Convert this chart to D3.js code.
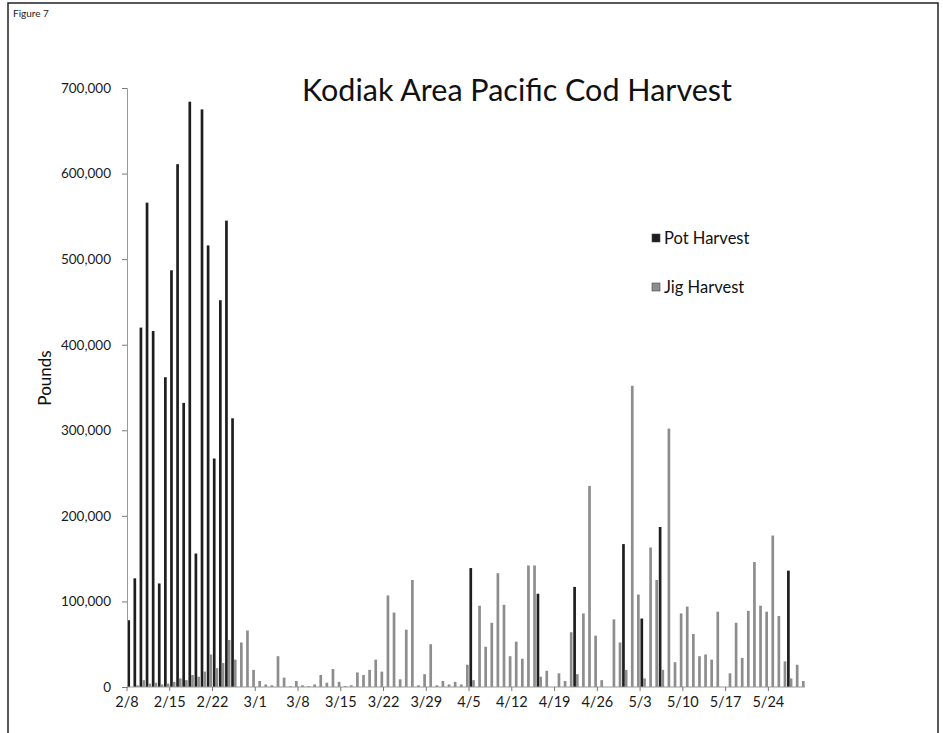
<!DOCTYPE html>
<html>
<head>
<meta charset="utf-8">
<script src="https://cdn.jsdelivr.net/npm/d3@7"></script>
<style>
  html, body { margin: 0; padding: 0; background: #fff; }
  svg { display: block; font-family: Lato, "Open Sans", sans-serif; }
</style>
</head>
<body>
<svg id="chart" width="943" height="733"></svg>
<script>
// one category per day, 2/8 .. 5/29
const days = [
  "2/8","2/9","2/10","2/11","2/12","2/13","2/14","2/15","2/16","2/17","2/18","2/19","2/20","2/21",
  "2/22","2/23","2/24","2/25","2/26","2/27","2/28",
  "3/1","3/2","3/3","3/4","3/5","3/6","3/7","3/8","3/9","3/10","3/11","3/12","3/13","3/14",
  "3/15","3/16","3/17","3/18","3/19","3/20","3/21","3/22","3/23","3/24","3/25","3/26","3/27","3/28",
  "3/29","3/30","3/31",
  "4/1","4/2","4/3","4/4","4/5","4/6","4/7","4/8","4/9","4/10","4/11","4/12","4/13","4/14",
  "4/15","4/16","4/17","4/18","4/19","4/20","4/21","4/22","4/23","4/24","4/25","4/26","4/27","4/28",
  "4/29","4/30",
  "5/1","5/2","5/3","5/4","5/5","5/6","5/7","5/8","5/9","5/10","5/11","5/12","5/13","5/14",
  "5/15","5/16","5/17","5/18","5/19","5/20","5/21","5/22","5/23","5/24","5/25","5/26","5/27","5/28",
  "5/29"
];

const tickDays = ["2/8","2/15","2/22","3/1","3/8","3/15","3/22","3/29","4/5","4/12","4/19","4/26","5/3","5/10","5/17","5/24"];

const yTicks = [0, 100000, 200000, 300000, 400000, 500000, 600000, 700000];

// pounds per day
const potHarvest = [
  78000, 127000, 420000, 566000, 416000, 121000, 362000, 487000, 611000, 332000, 684000, 156000, 675000, 516000,
  267000, 452000, 545000, 314000, 0, 0, 0,
  0, 0, 0, 0, 0, 0, 0, 0, 0, 0, 0, 0, 0, 0,
  0, 0, 0, 0, 0, 0, 0, 0, 0, 0, 0, 0, 0, 0,
  0, 0, 0,
  0, 0, 0, 0, 139000, 0, 0, 0, 0, 0, 0, 0, 0, 0,
  0, 109000, 0, 0, 0, 0, 0, 117000, 0, 0, 0, 0, 0, 0,
  0, 167000,
  0, 0, 80000, 0, 0, 187000, 0, 0, 0, 0, 0, 0, 0, 0,
  0, 0, 0, 0, 0, 0, 0, 0, 0, 0, 0, 0, 136000, 0,
  0
];

const jigHarvest = [
  0, 2000, 8000, 4000, 5000, 3000, 4000, 6000, 10000, 8000, 14000, 12000, 18000, 38000,
  22000, 28000, 55000, 32000, 52000, 66000, 20000,
  7000, 3000, 2000, 36000, 11000, 1000, 7000, 2000, 1000, 3000, 14000, 5000, 21000, 6000,
  1000, 2000, 17000, 14000, 20000, 32000, 18000, 107000, 87000, 9000, 67000, 125000, 2000, 15000,
  50000, 2000, 7000,
  3000, 6000, 3000, 26000, 8000, 95000, 47000, 75000, 133000, 96000, 36000, 53000, 33000, 142000,
  142000, 12000, 19000, 0, 16000, 7000, 64000, 15000, 86000, 235000, 60000, 8000, 0, 79000,
  52000, 20000,
  352000, 108000, 10000, 163000, 125000, 20000, 302000, 29000, 86000, 94000, 62000, 36000, 38000, 32000,
  88000, 0, 16000, 75000, 34000, 89000, 146000, 95000, 88000, 177000, 83000, 30000, 10000, 26000,
  7000
];

const seriesNames = ["Pot Harvest", "Jig Harvest"];
const seriesColors = { "Pot Harvest": "#1e1e1e", "Jig Harvest": "#8d8d8d" };

const svg = d3.select("#chart");

// scanned page frame
svg.append("rect")
  .attr("x", 8).attr("y", 3)
  .attr("width", 930).attr("height", 760)
  .attr("fill", "none")
  .attr("stroke", "#222")
  .attr("stroke-width", 1.5);

svg.append("text")
  .attr("x", 13).attr("y", 17)
  .attr("font-size", 10)
  .attr("fill", "#222")
  .text("Figure 7");

const plot = { left: 127, right: 805, top: 88, bottom: 687 };

const x = d3.scaleBand()
  .domain(days)
  .range([plot.left, plot.right])
  .paddingInner(0.12)
  .paddingOuter(0.06);

const xSeries = d3.scaleBand()
  .domain(seriesNames)
  .range([0, x.bandwidth()]);

const y = d3.scaleLinear()
  .domain([0, 700000])
  .range([plot.bottom, plot.top]);

const step = x.step();

const rows = days.map((d, i) => ({ day: d, "Pot Harvest": potHarvest[i], "Jig Harvest": jigHarvest[i] }));

const groups = svg.append("g")
  .selectAll("g")
  .data(rows)
  .join("g")
  .attr("transform", (d) => `translate(${x(d.day)},0)`);

groups.selectAll("rect")
  .data((d) => seriesNames.map((s) => ({ key: s, value: d[s] })))
  .join("rect")
  .filter((d) => d.value > 0)
  .attr("x", (d) => xSeries(d.key))
  .attr("y", (d) => y(d.value))
  .attr("width", xSeries.bandwidth())
  .attr("height", (d) => y(0) - y(d.value))
  .attr("fill", (d) => seriesColors[d.key]);

// y axis
const yAxis = svg.append("g")
  .attr("transform", `translate(${plot.left},0)`)
  .call(d3.axisLeft(y).tickValues(yTicks).tickFormat(d3.format(",")).tickSize(5).tickPadding(11));
yAxis.select(".domain").attr("stroke", "#999");
yAxis.selectAll(".tick line").attr("stroke", "#777");
yAxis.selectAll("text").attr("font-size", 13.5).attr("fill", "#1a1a1a").attr("font-family", "Lato, sans-serif");

// x axis: ticks at the left edge of each labelled day
const xAxis = svg.append("g")
  .attr("transform", `translate(0,${plot.bottom})`);
xAxis.append("line")
  .attr("x1", plot.left).attr("x2", plot.right)
  .attr("stroke", "#999");
xAxis.selectAll(".tick")
  .data(tickDays)
  .join("g")
  .attr("class", "tick")
  .attr("transform", (d) => `translate(${x(d) - step * x.paddingInner() / 2},0)`)
  .call((g) => g.append("line").attr("y2", 4).attr("stroke", "#777"))
  .call((g) => g.append("text")
    .attr("y", 20)
    .attr("text-anchor", "middle")
    .attr("font-size", 14.5)
    .attr("fill", "#1a1a1a")
    .text((d) => d));

svg.append("text")
  .attr("transform", "translate(51,378) rotate(-90)")
  .attr("text-anchor", "middle")
  .attr("font-size", 17)
  .attr("fill", "#111")
  .text("Pounds");

svg.append("text")
  .attr("x", 517).attr("y", 101)
  .attr("text-anchor", "middle")
  .attr("font-size", 30.5)
  .attr("fill", "#111")
  .text("Kodiak Area Pacific Cod Harvest");

// legend
const legend = svg.append("g")
  .selectAll("g")
  .data(seriesNames)
  .join("g")
  .attr("transform", (d, i) => `translate(652,${238 + i * 49})`);

legend.append("rect")
  .attr("x", 0).attr("y", -4)
  .attr("width", 8).attr("height", 8)
  .attr("fill", (d) => seriesColors[d])
  .attr("stroke", "#444")
  .attr("stroke-width", 0.6);

legend.append("text")
  .attr("x", 12).attr("y", 6)
  .attr("font-size", 16.5)
  .attr("fill", "#111")
  .text((d) => d);
</script>
</body>
</html>
